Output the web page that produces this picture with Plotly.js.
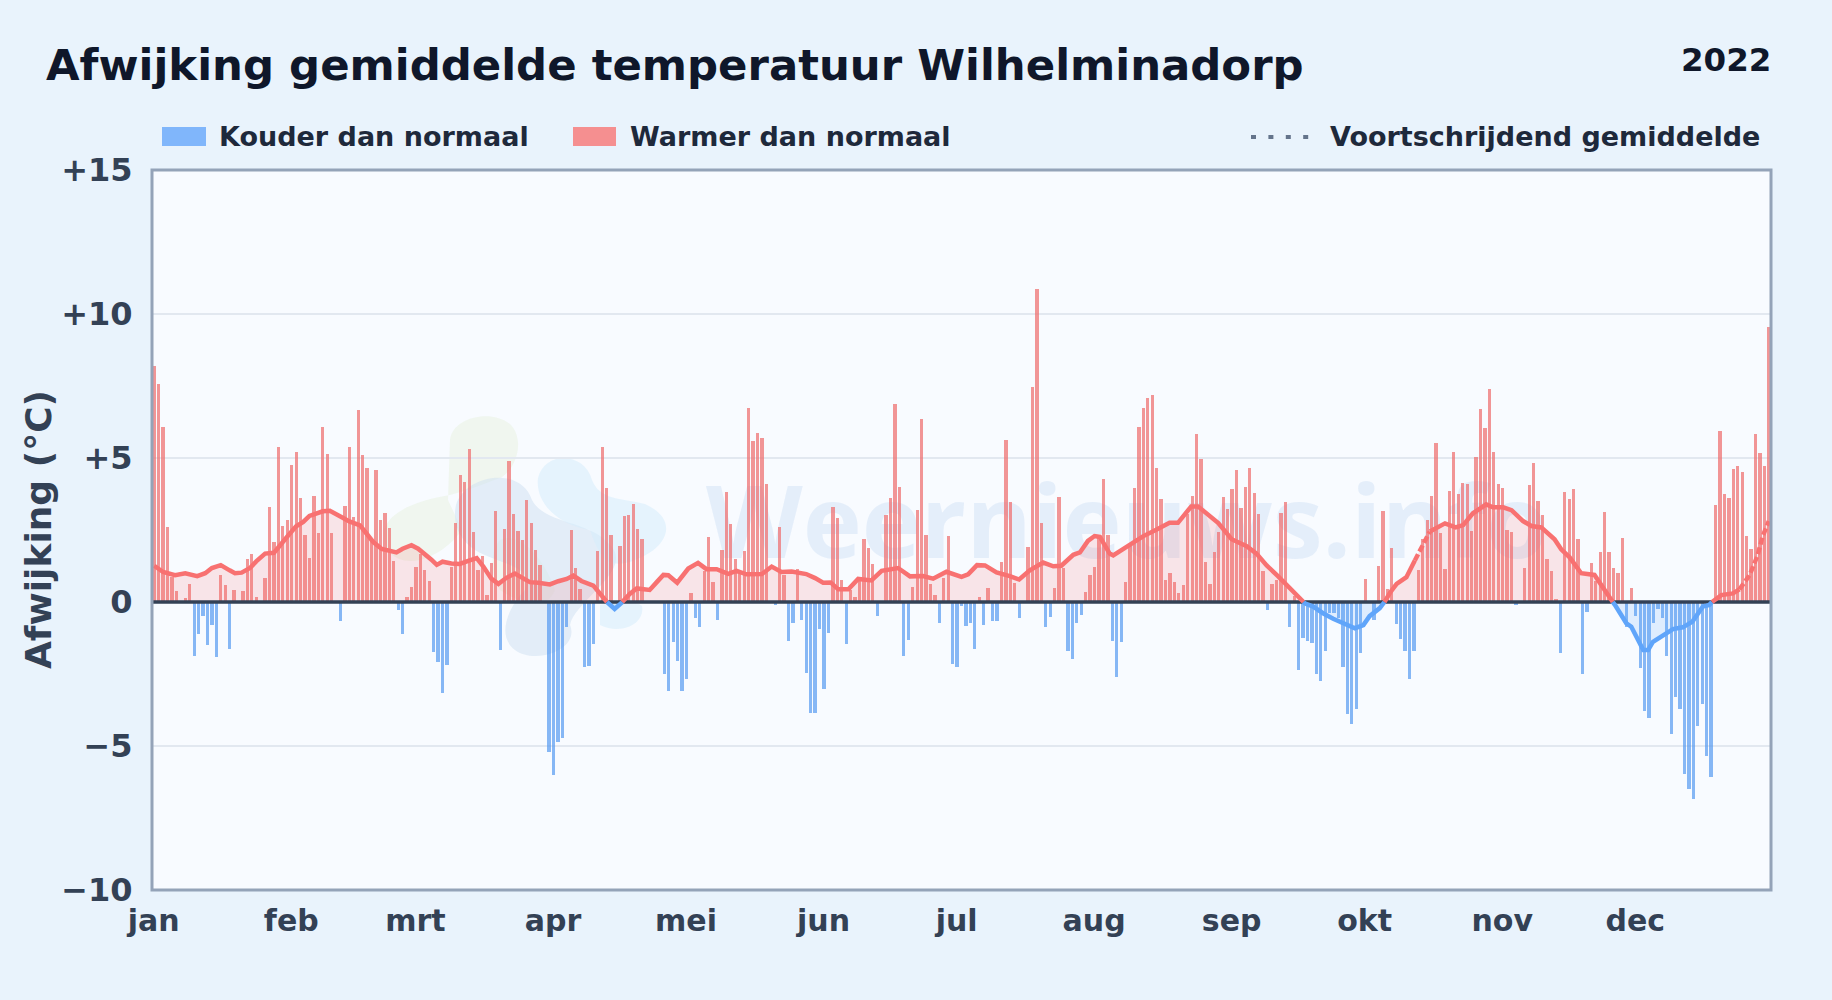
<!DOCTYPE html>
<html><head><meta charset="utf-8">
<script src="https://cdn.plot.ly/plotly-3.0.1.min.js"></script>
<style>html,body{margin:0;padding:0;background:#e9f3fc}#c{width:1832px;height:1000px}</style>
</head><body><div id="c"></div>
<script>
// Daily deviation of the mean temperature (°C), one value per day of 2022
const afwijking = [
8.2,7.58,6.06,2.6,0.87,0.37,0,0.15,0.61,-1.87,
-1.1,-0.49,-1.49,-0.79,-1.91,0.93,0.58,-1.63,0.4,0,
0.37,1.48,1.68,0.16,0,0.82,3.29,2.1,5.37,2.63,
2.84,4.75,5.2,3.6,2.31,1.52,3.67,2.38,6.06,5.13,
2.38,0,-0.66,3.32,5.37,2.94,6.65,5.09,4.64,2.2,
4.57,2.84,3.08,2.56,1.41,-0.28,-1.1,0.16,0.51,1.2,
1.68,1.1,0.72,-1.73,-2.08,-3.16,-2.19,1.21,2.73,4.4,
4.15,5.3,2.42,1.1,1.61,0.26,1.34,3.15,-1.66,2.52,
4.88,3.04,2.45,2.14,3.53,2.73,1.79,1.27,0,-5.22,
-6.0,-4.87,-4.72,-0.87,2.49,1.17,0.45,-2.26,-2.22,-1.46,
1.76,5.37,3.95,2.34,0,1.96,2.98,3.01,3.42,2.52,
2.18,0,0,0,0,-2.5,-3.09,-1.39,-2.05,-3.09,
-2.68,0.32,-0.55,-0.87,1.06,2.25,0.68,-0.62,1.79,3.81,
2.7,1.48,1.0,1.76,6.72,5.58,5.86,5.68,4.09,0,
-0.1,2.59,0.93,-1.35,-0.73,1.16,-0.62,-2.47,-3.85,-3.85,
-0.94,-3.02,-1.08,3.29,2.9,0.75,-1.46,0.4,0.16,0.86,
2.18,1.86,1.31,-0.49,0,3.01,3.6,6.86,3.98,-1.88,
-1.32,0.51,3.18,6.34,2.31,0.61,0.23,-0.73,0.82,2.28,
-2.15,-2.26,-0.14,-0.83,-0.73,-1.63,0.16,-0.8,0.47,-0.66,
-0.66,1.38,5.61,3.46,0.65,-0.56,0,1.9,7.45,10.86,
2.73,-0.87,-0.52,0.47,3.63,1.17,-1.7,-1.98,-0.73,-0.45,
0.34,0.93,1.2,2.3,4.26,2.31,-1.35,-2.6,-1.39,0.68,
1.95,3.95,6.06,6.72,7.07,7.18,4.64,3.56,0.75,1.0,
0.68,0.3,0.58,3.07,3.67,5.82,4.95,1.38,0.61,1.72,
2.42,3.63,3.22,3.91,4.57,3.25,3.98,4.64,3.77,3.04,
1.06,-0.28,0.61,0.75,3.08,3.46,-0.87,0.2,-2.36,-1.24,
-1.35,-1.41,-2.49,-2.73,-1.69,-0.37,-0.37,-0.57,-2.25,-3.88,
-4.22,-3.7,-1.76,0.8,0,-0.61,1.25,3.16,0.45,1.88,
-0.75,-1.27,-1.69,-2.66,-1.69,1.11,2.2,2.85,3.68,5.52,
2.4,1.15,3.85,5.2,3.75,4.13,4.1,2.47,5.03,6.7,
6.04,7.4,5.2,4.1,3.96,2.5,2.43,-0.12,0,1.18,
4.06,4.83,3.5,3.02,1.49,1.08,0.1,-1.76,3.82,3.58,
3.92,2.19,-2.49,-0.34,1.35,0.74,1.74,3.13,1.74,1.18,
1.01,2.22,-0.88,0.49,-0.47,-2.28,-3.77,-4.02,-0.72,-0.23,
-0.54,-1.86,-4.57,-3.29,-3.7,-5.96,-6.48,-6.83,-4.29,-3.53,
-5.34,-6.06,3.37,5.94,3.75,3.61,4.62,4.72,4.51,2.29,
1.84,5.83,5.17,4.72,9.55];

// Moving average: day number and value
const gemDag = [0,2,4.7,7,9.7,11.5,13,15,17,18.2,19.7,21.6,23,25,27,28.7,30.2,32,33.6,35,36.6,38,39.6,41,42.6,44,46.4,47.9,49.4,51.3,52.8,54.6,56,58,59.5,61.4,62.5,63.7,65,67,68.9,70.8,72.7,74.2,76,77.6,79.4,81.3,82.8,84.7,86.6,89.2,91.1,93,94.5,96.3,99,101.2,102,103.8,105.4,107.2,108.8,111.7,113.3,114.8,115.9,117.9,120.4,122.6,124.5,126.8,129.4,131.3,133.5,137,139.2,141.4,143.7,147,149,150.8,152.5,154.2,156.5,158.7,161.7,164,167.7,170.4,173.3,175.6,178.6,182,183.5,185.5,187.3,189.9,192.9,195,197.4,200.4,202.7,204.5,207.2,208.7,210.5,212,213.2,215.4,216.2,219.2,222.9,225.9,228.9,230.8,232.3,233.8,235.3,237.2,239.9,242.9,246.3,248.5,250.8,253.4,255.3,257.2,258.6,259.4,261.3,263.5,265.8,268,270.7,272.6,274,276.3,277.4,278.6,280.1,282.3,284.2,285.7,287.6,291,293.4,295.1,297.3,300.3,301.8,304.1,306,308.6,310.5,312.7,315.7,317.2,319.1,321.7,324.7,326.3,328.5,329.3,331.9,333,335.7,336.8,337.9,340.9,342.4,344.6,346.8,349.1,350.6,351.2,353.3,355.9,357.4,359.7,361.5,362.6,364];
const gemWaarde = [1.26,1.04,0.93,1.0,0.9,1.0,1.18,1.28,1.1,1.0,1.02,1.18,1.41,1.68,1.71,2.0,2.31,2.63,2.78,2.99,3.09,3.15,3.17,3.07,2.92,2.8,2.66,2.37,2.08,1.84,1.79,1.72,1.85,1.97,1.85,1.64,1.47,1.29,1.4,1.34,1.32,1.43,1.52,1.23,0.81,0.63,0.84,0.99,0.87,0.69,0.67,0.61,0.72,0.8,0.92,0.73,0.57,0.12,0.01,-0.24,-0.02,0.28,0.47,0.42,0.69,0.94,0.93,0.67,1.16,1.36,1.14,1.14,0.98,1.08,0.96,0.97,1.23,1.04,1.06,0.97,0.83,0.67,0.68,0.44,0.44,0.8,0.75,1.08,1.18,0.89,0.9,0.81,1.05,0.87,0.96,1.28,1.27,1.03,0.9,0.78,1.1,1.37,1.24,1.26,1.64,1.72,2.12,2.29,2.26,1.68,1.62,1.91,2.28,2.51,2.75,2.75,3.03,3.32,3.32,3.07,2.74,2.18,1.94,1.68,1.27,0.89,0.58,0.31,0.09,-0.05,-0.16,-0.39,-0.58,-0.72,-0.91,-0.8,-0.49,-0.21,0.01,0.32,0.63,0.86,1.44,1.92,2.45,2.73,2.59,2.67,3.08,3.39,3.29,3.29,3.19,2.81,2.64,2.59,2.18,1.83,1.55,1.0,0.94,0.59,0.07,-0.1,-0.74,-0.86,-1.67,-1.67,-1.38,-1.09,-0.94,-0.88,-0.68,-0.16,-0.1,0,0.24,0.3,0.44,0.94,1.63,2.27,2.81];

const maandDag = [0,31,59,90,120,151,181,212,243,273,304,334];
const maandNaam = ['jan','feb','mrt','apr','mei','jun','jul','aug','sep','okt','nov','dec'];
const yWaarden = [-10,-5,0,5,10,15];
const yLabels = ['−10','−5','0','+5','+10','+15'];
const titel = 'Afwijking gemiddelde temperatuur Wilhelminadorp';
const jaar = '2022';
const legendaKoud = 'Kouder dan normaal';
const legendaWarm = 'Warmer dan normaal';
const legendaGem = 'Voortschrijdend gemiddelde';
const asTitel = 'Afwijking (°C)';
const watermerk = 'Weernieuws.info';
const gestippeld = [[283.5,287.2],[358,364.6]];

const W=1832,H=1000,L=152,R=1771,T=170,B=890;
// page pixels -> paper fractions (paper spans the plot area)
const px=(x)=>(x-L)/(R-L), py=(y)=>(B-y)/(B-T);
const toPaper=s=>s.replace(/(-?\d+(?:\.\d+)?),(-?\d+(?:\.\d+)?)/g,(m,a,b)=>px(+a).toFixed(5)+','+py(+b).toFixed(5));
const blob=(d,c)=>({type:'path',xref:'paper',yref:'paper',path:toPaper(d),fillcolor:c,line:{width:0},layer:'below'});

const dagX = afwijking.map((v,i)=>i+0.5);
const warmX=[],warmY=[],koudX=[],koudY=[];
afwijking.forEach((v,i)=>{ if(v>0){warmX.push(dagX[i]);warmY.push(v);} else if(v<0){koudX.push(dagX[i]);koudY.push(v);} });

// split the average into runs of equal sign / dash state
const isDash=x=>gestippeld.some(r=>x>=r[0]&&x<=r[1]);
let pts=[];
for(let i=0;i<gemDag.length;i++){
  const x=gemDag[i]+0.5,y=gemWaarde[i];
  if(i>0){const p0=pts[pts.length-1]; if(p0.y*y<0){const t=p0.y/(p0.y-y); pts.push({x:p0.x+t*(x-p0.x),y:0});}}
  pts.push({x,y});
}
const runs=[];let cur=null;
for(let i=1;i<pts.length;i++){
  const a=pts[i-1],b=pts[i],m=(a.y+b.y)/2,warm=m>=0,d=isDash((a.x+b.x)/2-0.5);
  if(!cur||cur.warm!==warm||cur.d!==d){cur={warm,d,x:[a.x],y:[a.y]};runs.push(cur);}
  cur.x.push(b.x);cur.y.push(b.y);
}
const traces=[];
runs.forEach(r=>traces.push({type:'scatter',mode:'lines',x:r.x,y:r.y,fill:'tozeroy',line:{width:0},
  fillcolor:r.warm?'rgba(248,113,113,0.16)':'rgba(96,165,250,0.16)',hoverinfo:'skip',showlegend:false}));
traces.push({type:'bar',name:legendaWarm,x:warmX,y:warmY,width:0.74,marker:{color:'rgba(239,110,110,0.72)',line:{width:0}},showlegend:false});
traces.push({type:'bar',name:legendaKoud,x:koudX,y:koudY,width:0.74,marker:{color:'rgba(80,150,240,0.68)',line:{width:0}},showlegend:false});
traces.push({type:'scatter',mode:'lines',x:[0,365],y:[0,0],line:{color:'#334155',width:3.4},hoverinfo:'skip',showlegend:false});
runs.forEach(r=>traces.push({type:'scatter',mode:'lines',name:legendaGem,x:r.x,y:r.y,
  line:{color:r.warm?'#f87171':'#60a5fa',width:4.5,dash:r.d?'7px,3px':'solid'},showlegend:false}));

const txt=(text,x,y,size,color,xa,ya)=>({text,x:px(x),y:py(y),xref:'paper',yref:'paper',showarrow:false,
  font:{family:'DejaVu Sans',size,color,weight:700},xanchor:xa||'left',yanchor:ya||'middle',borderpad:0,borderwidth:0});

const layout={
  width:W,height:H,margin:{l:L,r:W-R,t:T,b:H-B},
  paper_bgcolor:'#e9f3fc',plot_bgcolor:'#f8fbff',barmode:'overlay',bargap:0,
  font:{family:'DejaVu Sans'},
  xaxis:{range:[0,365],tickmode:'array',tickvals:maandDag.map(d=>d+0.4),ticktext:maandNaam,showgrid:false,zeroline:false,
    showline:false,ticks:'outside',ticklen:4,tickcolor:'rgba(0,0,0,0)',
    tickfont:{family:'DejaVu Sans',size:30,color:'#334155',weight:700}},
  yaxis:{range:[-10,15],tickmode:'array',tickvals:yWaarden,ticktext:yLabels,showgrid:true,gridcolor:'#e2e8f0',gridwidth:2,zeroline:false,
    showline:false,ticks:'outside',ticklen:12,tickcolor:'rgba(0,0,0,0)',
    tickfont:{family:'DejaVu Sans',size:32,color:'#334155',weight:700}},
  annotations:[
    txt(titel,46,65,43.4,'#0f172a'),
    txt(jaar,1771,60,32.5,'#0f172a','right'),
    txt(legendaKoud,219,137,27,'#1e293b'),
    txt(legendaWarm,630,137,27,'#1e293b'),
    txt(legendaGem,1330,137,27,'#1e293b'),
    Object.assign(txt(asTitel,38,530,36,'#334155','center'),{textangle:-90})
  ],
  shapes:[
    blob('M450,440 C452,418 490,408 510,424 C526,440 516,470 500,478 C480,485 470,490 450,495 C420,500 390,510 384,530 C382,550 395,565 420,560 C440,555 455,540 462,530 L448,500 Z','rgba(226,240,214,0.38)'),
    blob('M500,540 C520,530 545,560 555,590 C545,615 515,600 500,590 C490,575 490,550 500,540 Z','rgba(226,240,214,0.35)'),
    blob('M456,505 C465,475 520,465 532,500 C545,525 590,520 610,545 C635,570 575,600 570,625 C580,650 535,665 515,650 C495,635 510,605 525,590 C535,565 500,565 475,550 C460,540 452,525 456,505 Z','rgba(205,223,242,0.5)'),
    blob('M538,478 C545,450 585,452 592,480 C600,500 620,498 645,504 C680,520 668,548 635,560 C610,570 600,560 590,530 C560,525 535,505 538,478 Z','rgba(214,236,252,0.55)'),
    blob('M600,605 C615,602 635,600 642,606 C645,625 620,635 600,625 Z','rgba(214,236,252,0.55)'),
    {type:'rect',xref:'paper',yref:'paper',x0:px(700),x1:px(1771),y0:py(466),y1:py(586),line:{width:0},fillcolor:'rgba(0,0,0,0)',layer:'below',
     label:{text:watermerk,textposition:'middle left',font:{family:'Open Sans',size:100,color:'rgba(190,215,240,0.34)',weight:700}}},
    {type:'rect',xref:'paper',yref:'paper',x0:0,x1:1,y0:0,y1:1,line:{color:'#94a3b8',width:3},fillcolor:'rgba(0,0,0,0)'},
    {type:'rect',xref:'paper',yref:'paper',x0:px(162),x1:px(206),y0:py(127),y1:py(146),fillcolor:'#80b6fb',line:{width:0}},
    {type:'rect',xref:'paper',yref:'paper',x0:px(573),x1:px(616),y0:py(127),y1:py(146),fillcolor:'#f58f90',line:{width:0}},
    {type:'line',xref:'paper',yref:'paper',x0:px(1251),x1:px(1311),y0:py(137),y1:py(137),line:{color:'#64748b',width:4,dash:'5px,12.4px'}}
  ]
};
Plotly.newPlot('c',traces,layout,{displayModeBar:false,staticPlot:true});
</script></body></html>
